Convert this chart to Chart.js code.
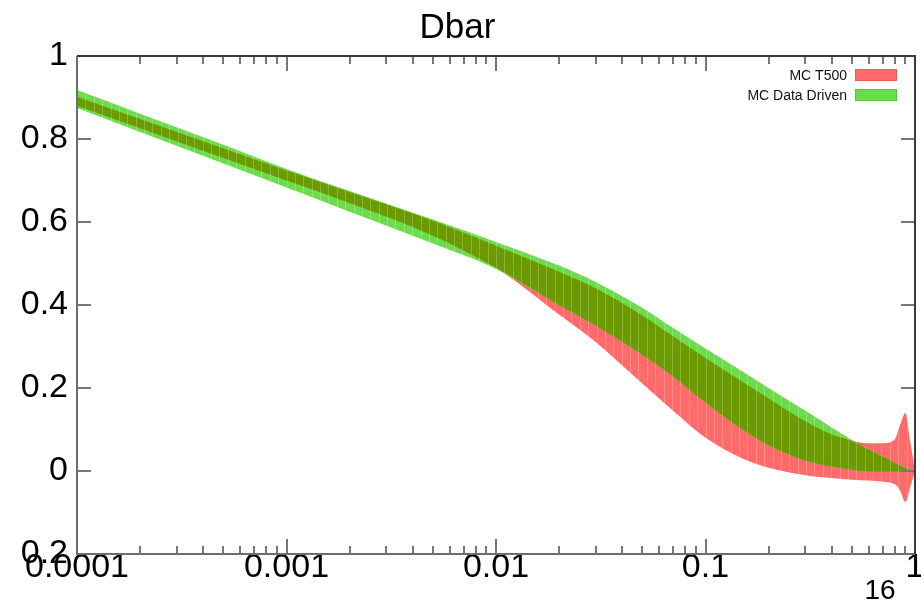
<!DOCTYPE html>
<html>
<head>
<meta charset="utf-8">
<title>Dbar</title>
<script src="https://cdn.jsdelivr.net/npm/chart.js@4/dist/chart.umd.min.js"></script>
<style>
    body { margin: 0; background: #ffffff; }
    #dbarWrap { width: 921px; height: 602px; }
</style>
</head>
<body>
<div id="dbarWrap"><canvas id="dbarChart" width="921" height="602"></canvas></div>
<script>

// Sample points along x (log axis)
const xVals = [0.0001, 0.0002, 0.0005, 0.001, 0.002, 0.005, 0.01, 0.02, 0.03, 0.05, 0.07,
               0.1, 0.15, 0.2, 0.3, 0.4, 0.5, 0.6, 0.7, 0.8, 0.85, 0.9, 0.95, 1];

// MC T500 band (lower / upper edge)
const t500Lo = [0.880, 0.826, 0.754, 0.700, 0.646, 0.567, 0.490, 0.377, 0.310, 0.210, 0.145,
                0.080, 0.030, 0.008, -0.010, -0.017, -0.021, -0.023, -0.026, -0.032, -0.048, -0.075, -0.038, 0.0];
const t500Hi = [0.902, 0.848, 0.777, 0.724, 0.672, 0.603, 0.543, 0.480, 0.440, 0.375, 0.325,
                0.272, 0.215, 0.175, 0.120, 0.088, 0.072, 0.067, 0.067, 0.076, 0.112, 0.140, 0.070, 0.0];

// MC Data Driven band (lower / upper edge)
const ddLo = [0.875, 0.817, 0.741, 0.683, 0.625, 0.548, 0.487, 0.400, 0.350, 0.280, 0.228,
              0.165, 0.100, 0.062, 0.025, 0.011, 0.003, -0.001, -0.002, -0.002, -0.002, -0.001, 0.0, 0.0];
const ddHi = [0.918, 0.861, 0.786, 0.728, 0.675, 0.606, 0.552, 0.495, 0.455, 0.393, 0.345,
              0.295, 0.240, 0.200, 0.145, 0.105, 0.075, 0.052, 0.035, 0.020, 0.013, 0.007, 0.003, 0.0];

// Axis ticks
const xTickVals = [0.0001, 0.001, 0.01, 0.1, 1];
const xTickLabels = ["0.0001", "0.001", "0.01", "0.1", "1"];
const yTickVals = [-0.2, 0, 0.2, 0.4, 0.6, 0.8, 1];
const yTickLabels = ["0.2", "0", "0.2", "0.4", "0.6", "0.8", "1"];

// Legend entries
const seriesNames = ["MC T500", "MC Data Driven"];

const RED = "#ff6b6b";
const GREEN = "#6ddc4c";
const OLIVE = "#6b9b00";
const FONT = "'Liberation Sans', Arial, Helvetica, sans-serif";
const N_BINS = 100;   // histogram bins across the x range


// Where the two bands overlap (drawn darker)
const bothLo = ddLo.map((v, i) => Math.max(v, t500Lo[i]));
const bothHi = ddHi.map((v, i) => Math.min(v, t500Hi[i]));

function toPoints(ys) {
    return xVals.map((x, i) => ({ x: x, y: ys[i] }));
}

// One edge of a band; the upper edge fills down to the lower one
function edge(label, ys, colour, fillTo, order) {
    return {
        label: label,
        data: toPoints(ys),
        borderWidth: 0,
        borderColor: "transparent",
        backgroundColor: colour,
        pointRadius: 0,
        cubicInterpolationMode: "monotone",
        fill: fillTo === null ? false : { target: fillTo },
        order: order
    };
}


//====================== BIN STRIPES, FRAME + INNER TICKS ========================
const frameTicks = {
    id: "frameTicks",
    afterDatasetsDraw(chart) {
        const { ctx, chartArea: a, scales } = chart;
        const xs = scales.x, ys = scales.y;
        ctx.save();

        // faint bin edges show through the filled bands
        ctx.strokeStyle = "rgba(255,255,255,0.22)";
        ctx.lineWidth = 1;
        ctx.beginPath();
        const binW = (a.right - a.left) / N_BINS;
        for (let b = 1; b < N_BINS; b++) {
            const px = Math.round(a.left + b * binW) + 0.5;
            ctx.moveTo(px, a.top); ctx.lineTo(px, a.bottom);
        }
        ctx.stroke();

        ctx.lineWidth = 2;
        ctx.strokeStyle = "#777777";
        ctx.beginPath();

        // x ticks along bottom and top, long at each decade
        for (let d = -4; d < 0; d++) {
            for (let m = 1; m <= 9; m++) {
                const px = Math.round(xs.getPixelForValue(m * Math.pow(10, d)));
                const len = m === 1 ? 15 : 8;
                ctx.moveTo(px, a.bottom); ctx.lineTo(px, a.bottom - len);
                ctx.moveTo(px, a.top); ctx.lineTo(px, a.top + len);
            }
        }

        // y ticks on left and right
        yTickVals.forEach(v => {
            const py = Math.round(ys.getPixelForValue(v));
            ctx.moveTo(a.left, py); ctx.lineTo(a.left + 14, py);
            ctx.moveTo(a.right, py); ctx.lineTo(a.right - 14, py);
        });
        ctx.stroke();

        // Frame
        ctx.strokeStyle = "#6e6e6e";
        ctx.beginPath();
        ctx.moveTo(a.left, a.top); ctx.lineTo(a.left, a.bottom); ctx.lineTo(a.right, a.bottom);
        ctx.stroke();
        ctx.strokeStyle = "#3a3a3a";
        ctx.beginPath();
        ctx.moveTo(a.left, a.top); ctx.lineTo(a.right, a.top); ctx.lineTo(a.right, a.bottom);
        ctx.stroke();
        ctx.restore();
    }
};


//====================== LEGEND + PAGE NUMBER ========================
const bandLegend = {
    id: "bandLegend",
    afterDraw(chart) {
        const { ctx, chartArea: a } = chart;
        const colours = [RED, GREEN];
        const edges = ["#e85c5c", "#58c23a"];
        ctx.save();
        ctx.font = "14px " + FONT;
        ctx.textAlign = "right";
        ctx.textBaseline = "middle";
        seriesNames.forEach((name, i) => {
            const cy = a.top + 19 + i * 20;
            const boxRight = a.right - 18;
            ctx.fillStyle = "#111111";
            ctx.fillText(name, boxRight - 50, cy + 1);
            ctx.fillStyle = colours[i];
            ctx.fillRect(boxRight - 42, cy - 6, 42, 12);
            ctx.strokeStyle = edges[i];
            ctx.lineWidth = 1;
            ctx.strokeRect(boxRight - 41.5, cy - 5.5, 41, 11);
        });

        ctx.font = "28px " + FONT;
        ctx.textAlign = "center";
        ctx.fillStyle = "#000000";
        ctx.fillText("16", 880, 591);
        ctx.restore();
    }
};


//====================== CHART ========================
const dbarCtx = document.getElementById("dbarChart").getContext("2d");

var dbarChart = new Chart(dbarCtx, {
    type: "line",
    data: {
        datasets: [
            edge("T500 low", t500Lo, RED, null, 3),
            edge(seriesNames[0], t500Hi, RED, 0, 3),
            edge("DD low", ddLo, GREEN, null, 2),
            edge(seriesNames[1], ddHi, GREEN, 2, 2),
            edge("overlap low", bothLo, OLIVE, null, 1),
            edge("overlap high", bothHi, OLIVE, 4, 1)
        ]
    },
    options: {
        responsive: false,
        animation: false,
        events: [],
        layout: {
            padding: { left: 0, right: 6, top: 0, bottom: 0 }
        },
        scales: {
            x: {
                type: "logarithmic",
                min: 0.0001,
                max: 1,
                grid: { display: false, drawTicks: false },
                border: { display: false },
                afterBuildTicks: scale => {
                    scale.ticks = xTickVals.map(v => ({ value: v }));
                },
                afterFit: scale => {
                    scale.height = 48;
                    scale.paddingLeft = 0;
                    scale.paddingRight = 0;
                },
                ticks: {
                    autoSkip: false,
                    maxRotation: 0,
                    padding: -3,
                    color: "#000000",
                    font: { family: FONT, size: 34, lineHeight: 1.0 },
                    callback: (value, index) => xTickLabels[index]
                }
            },
            y: {
                min: -0.2,
                max: 1,
                grid: { display: false, drawTicks: false },
                border: { display: false },
                afterBuildTicks: scale => {
                    scale.ticks = yTickVals.map(v => ({ value: v }));
                },
                afterFit: scale => {
                    scale.width = 77;
                    scale.paddingTop = 0;
                    scale.paddingBottom = 0;
                },
                ticks: {
                    padding: 9,
                    color: "#000000",
                    font: { family: FONT, size: 34, lineHeight: 1.0 },
                    callback: (value, index) => yTickLabels[index]
                }
            }
        },
        plugins: {
            legend: { display: false },
            tooltip: { enabled: false },
            title: {
                display: true,
                text: "Dbar",
                color: "#000000",
                font: { family: FONT, size: 35, weight: "normal", lineHeight: 1.0 },
                padding: { top: 11, bottom: 10 }
            }
        }
    },
    plugins: [frameTicks, bandLegend]
});
</script>
</body>
</html>
